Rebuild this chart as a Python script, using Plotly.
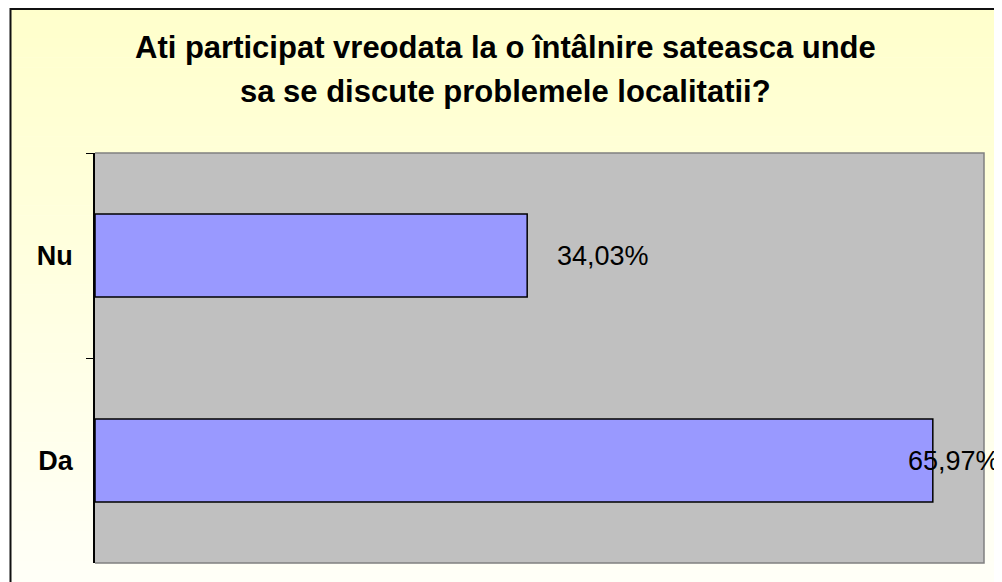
import plotly.graph_objects as go

# ---- data ----
categories = ["Nu", "Da"]
values = [34.03, 65.97]
title_lines = ["Ati participat vreodata la o întâlnire sateasca unde",
               "sa se discute problemele localitatii?"]
label_xshift = [28, -27]  # label placement (styling)

labels = [f"{v:.2f}%".replace(".", ",") for v in values]

fig = go.Figure()
fig.add_trace(go.Bar(
    y=categories, x=values, orientation="h",
    marker=dict(color="#9999FF", line=dict(color="black", width=1.5)),
    hoverinfo="skip", showlegend=False,
))

# ---- layout geometry (screen pixels; page body offsets figure by 8px) ----
OFF = 8
W, H = 1002 - OFF, 582 - OFF
L, R, T, B = 95, 984, 153, 563   # screen coords of plot area
def px_x(p):
    return (p - L) / (R - L)
def px_y(p):
    return (B - p) / (B - T)

shapes = []
n = 60
top_c = (255, 255, 204)
bot_c = (255, 255, 248)
y0p, y1p = 8, 600
for i in range(n):
    a = y0p + (y1p - y0p) * i / n
    b = y0p + (y1p - y0p) * (i + 1) / n
    t = i / (n - 1)
    c = tuple(round(top_c[k] + (bot_c[k] - top_c[k]) * t) for k in range(3))
    shapes.append(dict(type="rect", xref="paper", yref="paper",
                       x0=px_x(10), x1=px_x(1010), y0=px_y(a), y1=px_y(b + 0.5),
                       fillcolor=f"rgb{c}", line=dict(width=0), layer="below"))
# outer chart border
shapes.append(dict(type="rect", xref="paper", yref="paper",
                   x0=px_x(10.5), x1=px_x(1012), y0=px_y(9), y1=px_y(600),
                   fillcolor="rgba(0,0,0,0)", line=dict(color="#111111", width=2),
                   layer="below"))
# gray plot area
shapes.append(dict(type="rect", xref="paper", yref="paper",
                   x0=0, x1=1, y0=0, y1=1,
                   fillcolor="#C0C0C0", line=dict(width=0), layer="below"))
# plot area border (top, right, bottom) in gray
shapes.append(dict(type="path", xref="paper", yref="paper",
                   path="M 0,1 L 1,1 L 1,0 L 0,0",
                   line=dict(color="#808080", width=1.5), layer="above"))

annotations = []
for cat, v, txt, dx in zip(categories, values, labels, label_xshift):
    annotations.append(dict(x=v, y=cat, xref="x", yref="y", text=txt,
                            showarrow=False, xanchor="left", yanchor="middle",
                            xshift=dx, font=dict(family="Arial, Liberation Sans", size=27, color="black")))
title_y = [47, 91]
for line, py in zip(title_lines, title_y):
    annotations.append(dict(x=px_x(505), y=px_y(py), xref="paper", yref="paper",
                            text=f"<b>{line}</b>", showarrow=False,
                            xanchor="center", yanchor="middle",
                            font=dict(family="Arial, Liberation Sans", size=31, color="black")))

fig.update_layout(
    width=W, height=H,
    margin=dict(l=L - OFF, r=W - (R - OFF), t=T - OFF, b=H - (B - OFF), pad=0),
    paper_bgcolor="white",
    plot_bgcolor="#C0C0C0",
    bargap=0.595,
    shapes=shapes,
    annotations=annotations,
    font=dict(family="Arial, Liberation Sans", color="black"),
    xaxis=dict(range=[0, 70], showticklabels=False, showgrid=False,
               zeroline=False, showline=False, ticks=""),
    yaxis=dict(autorange="reversed", showgrid=False, zeroline=False,
               showline=True, linecolor="black", linewidth=1.5,
               ticks="outside", ticklen=7, tickcolor="black", tickwidth=1,
               tickson="boundaries", ticklabelstandoff=15,
               tickfont=dict(family="Arial, Liberation Sans", size=27, color="black"),
               tickprefix="<b>", ticksuffix="</b>"),
)

fig.write_html("out.html")
